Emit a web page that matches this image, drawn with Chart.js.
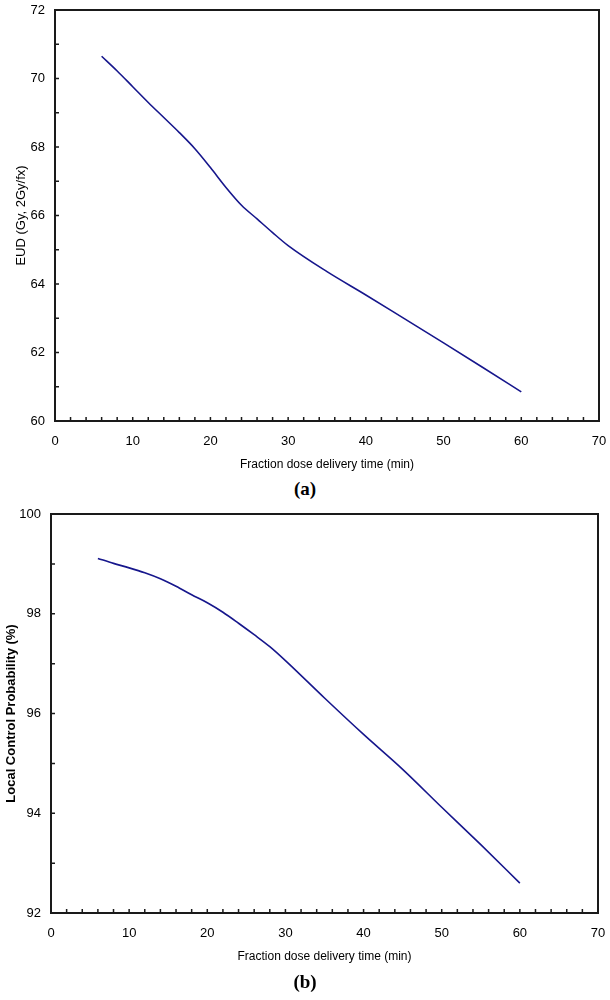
<!DOCTYPE html>
<html>
<head>
<meta charset="utf-8">
<script src="https://cdn.jsdelivr.net/npm/chart.js@4.4.1/dist/chart.umd.min.js"></script>
<style>
  body { margin: 0; background: #fff; width: 610px; height: 1000px; position: relative; overflow: hidden; }
  .panel { position: absolute; left: 0; width: 610px; height: 475px; }
  .tag { position: absolute; left: 0; width: 610px; text-align: center; font: bold 19px "Liberation Serif", "Times New Roman", serif; }
</style>
</head>
<body>
<div class="panel" style="top:0"><canvas id="chartA" width="610" height="475"></canvas></div>
<div class="tag" style="top:478px">(a)</div>
<div class="panel" style="top:500px"><canvas id="chartB" width="610" height="475"></canvas></div>
<div class="tag" style="top:971px">(b)</div>
<script>
// panel (a): EUD vs fraction dose delivery time
const timeA = [6, 8, 10, 12, 14, 16, 18, 20, 22, 24, 26, 28, 30, 35, 40, 45, 50, 55, 60];
const eud = [70.65, 70.22, 69.76, 69.3, 68.86, 68.42, 67.95, 67.4, 66.82, 66.3, 65.9, 65.5, 65.12, 64.36, 63.68, 62.98, 62.28, 61.57, 60.85];

// panel (b): local control probability vs fraction dose delivery time
const timeB = [6, 8, 10, 12, 14, 16, 18, 20, 22, 24, 26, 28, 30, 35, 40, 45, 50, 55, 60];
const lcp = [99.11, 99.01, 98.92, 98.82, 98.7, 98.55, 98.38, 98.22, 98.03, 97.81, 97.58, 97.34, 97.06, 96.31, 95.58, 94.88, 94.12, 93.37, 92.6];

const xTitle = 'Fraction dose delivery time (min)';
const FONT = '"Liberation Sans", Arial, sans-serif';
const LINE_COLOR = '#16168c';

// box round the plot and short ticks pointing inwards
const frameAndTicks = {
    id: 'frameAndTicks',
    afterDatasetsDraw(chart) {
        const ctx = chart.ctx;
        const area = chart.chartArea;
        const x = chart.scales.x;
        const y = chart.scales.y;
        ctx.save();
        ctx.strokeStyle = '#1a1a1a';
        ctx.lineWidth = 1.5;
        ctx.beginPath();
        x.ticks.forEach(t => {
            const px = x.getPixelForValue(t.value);
            ctx.moveTo(px, area.bottom);
            ctx.lineTo(px, area.bottom - 4);
        });
        y.ticks.forEach(t => {
            const py = y.getPixelForValue(t.value);
            ctx.moveTo(area.left, py);
            ctx.lineTo(area.left + 4, py);
        });
        ctx.stroke();
        ctx.lineWidth = 2;
        ctx.strokeRect(area.left, area.top, area.right - area.left, area.bottom - area.top);
        ctx.restore();
    }
};

function makeChart(id, xs, ys, cfg) {
    const canvas = document.getElementById(id);
    const ctx = canvas.getContext('2d');
    return new Chart(ctx, {
        type: 'line',
        data: {
            datasets: [{
                data: xs.map((v, i) => ({ x: v, y: ys[i] })),
                borderColor: LINE_COLOR,
                borderWidth: 1.6,
                pointRadius: 0,
                cubicInterpolationMode: 'monotone',
                fill: false
            }]
        },
        options: {
            responsive: false,
            animation: false,
            layout: {
                padding: { top: cfg.top, right: cfg.right, bottom: 0, left: 0 }
            },
            scales: {
                x: {
                    type: 'linear',
                    min: 0,
                    max: 70,
                    afterFit: scale => {
                        scale.height = cfg.xHeight;
                        scale.paddingLeft = 0;
                        scale.paddingRight = 0;
                    },
                    border: { display: false },
                    grid: { display: false, drawTicks: false },
                    ticks: {
                        stepSize: 2,
                        autoSkip: false,
                        maxRotation: 0,
                        padding: 13,
                        color: '#000',
                        font: { family: FONT, size: 13 },
                        callback: v => (v % 10 === 0 ? v : '')
                    },
                    title: {
                        display: true,
                        text: xTitle,
                        color: '#000',
                        font: { family: FONT, size: 12 },
                        padding: { top: 0, bottom: cfg.xTitlePad }
                    }
                },
                y: {
                    type: 'linear',
                    min: cfg.yMin,
                    max: cfg.yMax,
                    afterFit: scale => {
                        scale.width = cfg.yWidth;
                        scale.paddingTop = 0;
                        scale.paddingBottom = 0;
                    },
                    border: { display: false },
                    grid: { display: false, drawTicks: false },
                    ticks: {
                        stepSize: 1,
                        autoSkip: false,
                        padding: 10,
                        color: '#000',
                        font: { family: FONT, size: 13 },
                        callback: v => (v % 2 === 0 ? v : '')
                    },
                    title: {
                        display: true,
                        text: cfg.yTitle,
                        color: '#000',
                        font: { family: FONT, size: 13, weight: cfg.yTitleWeight },
                        padding: { top: cfg.yTitlePad, bottom: 0 }
                    }
                }
            },
            plugins: {
                legend: { display: false },
                tooltip: { enabled: false }
            }
        },
        plugins: [frameAndTicks]
    });
}

makeChart('chartA', timeA, eud, {
    top: 10, right: 11, xHeight: 54, yWidth: 55,
    yMin: 60, yMax: 72, yTitle: 'EUD (Gy, 2Gy/fx)', yTitleWeight: 'normal',
    xTitlePad: 3, yTitlePad: 14
});

makeChart('chartB', timeB, lcp, {
    top: 14, right: 12, xHeight: 62, yWidth: 51,
    yMin: 92, yMax: 100, yTitle: 'Local Control Probability (%)', yTitleWeight: 'bold',
    xTitlePad: 11, yTitlePad: 4
});
</script>
</body>
</html>
